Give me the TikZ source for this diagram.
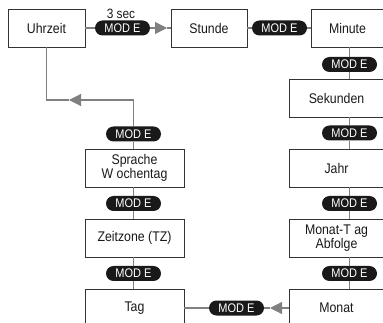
\documentclass[tikz,border=0pt]{standalone}
\usepackage{fontspec}
\setmainfont{Liberation Sans}[FakeStretch=0.88]
\usetikzlibrary{arrows.meta}

\begin{document}
\begin{tikzpicture}[x=1pt, y=-1pt,
	box/.style={draw=black!80, line width=0.9pt, fill=white, minimum height=38pt, inner sep=0pt, align=center, text=black!90, font=\fontsize{14}{14.5}\selectfont},
	modbox/.style={fill=black!90, rounded corners=7.5pt, minimum width=55pt, minimum height=15pt, inner sep=0pt, text=white, font=\fontsize{12.5}{12.5}\selectfont},
	gline/.style={draw=black!50, line width=1.1pt},
	garrow/.style={gline, -{Triangle[length=12pt, width=12pt]}}]
			\useasboundingbox (0,0) rectangle (383,323);
			\clip (0,0) rectangle (383,323);

			\node (uhr) [box, minimum width=77pt] at (46.5,28) {Uhrzeit};
			\node (std) [box, minimum width=76pt] at (209,28) {Stunde};
			\node (min) [box, minimum width=73pt] at (347.5,28) {Minute};
			\node (sek) [box, minimum width=95pt] at (336.5,98) {Sekunden};
			\node (jahr) [box, minimum width=95pt] at (336.5,168) {Jahr};
			\node (mt) [box, minimum width=95pt] at (336.5,238) {Monat-T ag\\Abfolge};
			\node (mon) [box, minimum width=95pt] at (336.5,308) {Monat};
			\node (tag) [box, minimum width=99pt] at (134.5,308) {Tag};
			\node (tz) [box, minimum width=99pt] at (134.5,238) {Zeitzone (TZ)};
			\node (spr) [box, minimum width=99pt] at (134.5,168) {Sprache\\W ochentag};

			\node (p1) [modbox] at (122.5,28) {MOD E};
			\node (sec) [font=\fontsize{13.5}{13.5}\selectfont, text=black!90, inner sep=0pt] at (121,13.5) {3 sec};
			\node (p2) [modbox] at (279.5,28) {MOD E};
			\node (p3) [modbox] at (349.5,64.5) {MOD E};
			\node (p4) [modbox] at (349.5,133) {MOD E};
			\node (p5) [modbox] at (349.5,203.5) {MOD E};
			\node (p6) [modbox] at (349.5,273.5) {MOD E};
			\node (p7) [modbox] at (236.5,308) {MOD E};
			\node (p8) [modbox] at (133.5,273.5) {MOD E};
			\node (p9) [modbox] at (133.5,203.5) {MOD E};
			\node (p10) [modbox] at (133.5,134) {MOD E};

			\coordinate (a1) at (167,28);
			\coordinate (a2) at (69,100);
			\coordinate (a3) at (270,308);
			\coordinate (c1) at (133.5,100);

			\path (uhr.east) edge [ gline ] (p1.west);
			\path (p1.east) edge [ garrow ] (a1);
			\path (a1) edge [ gline ] (std.west);
			\path (std.east) edge [ gline ] (p2.west);
			\path (p2.east) edge [ gline ] (min.west);
			\path (p3 |- min.south) edge [ gline ] (p3.north);
			\path (p3.south) edge [ gline ] (p3 |- sek.north);
			\path (p4 |- sek.south) edge [ gline ] (p4.north);
			\path (p4.south) edge [ gline ] (p4 |- jahr.north);
			\path (p5 |- jahr.south) edge [ gline ] (p5.north);
			\path (p5.south) edge [ gline ] (p5 |- mt.north);
			\path (p6 |- mt.south) edge [ gline ] (p6.north);
			\path (p6.south) edge [ gline ] (p6 |- mon.north);
			\path (mon.west) edge [ garrow ] (a3);
			\path (a3) edge [ gline ] (p7.east);
			\path (p7.west) edge [ gline ] (tag.east);
			\path (p8 |- tag.north) edge [ gline ] (p8.south);
			\path (p8.north) edge [ gline ] (p8 |- tz.south);
			\path (p9 |- tz.north) edge [ gline ] (p9.south);
			\path (p9.north) edge [ gline ] (p9 |- spr.south);
			\path (p10 |- spr.north) edge [ gline ] (p10.south);
			\path (p10.north) edge [ gline ] (c1);
			\path (c1) edge [ garrow ] (a2);
			\draw [ gline ] (a2) -- (a2 -| uhr) -- (uhr.south);
\end{tikzpicture}
\end{document}
